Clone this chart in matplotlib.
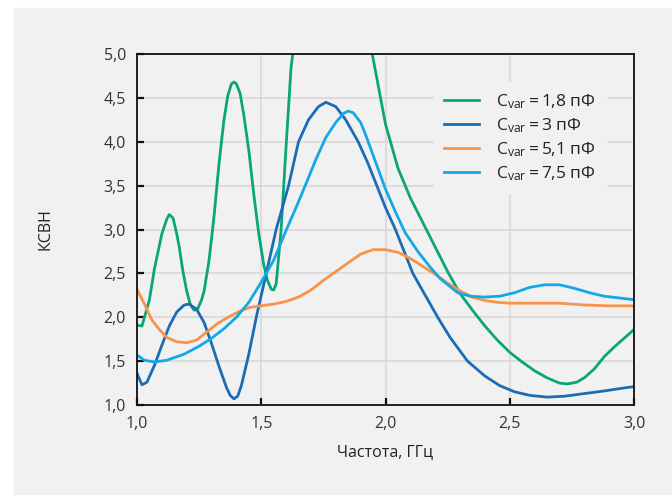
import matplotlib
matplotlib.use('Agg')
import matplotlib.pyplot as plt
from matplotlib.patches import Rectangle
from matplotlib.ticker import FuncFormatter

plt.rcParams['font.family'] = ['Open Sans', 'DejaVu Sans']

# Данные КСВН
f_18 = [1.00, 1.02, 1.05, 1.07, 1.10, 1.12, 1.13, 1.145, 1.16, 1.17, 1.185, 1.20,
        1.215, 1.23, 1.245, 1.26, 1.27, 1.29, 1.31, 1.33, 1.35, 1.365, 1.38, 1.39,
        1.40, 1.415, 1.43, 1.45, 1.47, 1.49, 1.51, 1.525, 1.54, 1.55, 1.56, 1.58,
        1.60, 1.62, 1.65, 1.70, 1.78, 1.86, 1.92, 1.95, 2.00, 2.05, 2.10, 2.15,
        2.20, 2.25, 2.30, 2.35, 2.40, 2.45, 2.50, 2.55, 2.60, 2.65, 2.70, 2.73,
        2.77, 2.80, 2.84, 2.88, 2.92, 2.96, 3.00]
vswr_18 = [1.91, 1.90, 2.20, 2.55, 2.95, 3.12, 3.17, 3.13, 2.95, 2.80, 2.52, 2.30,
           2.14, 2.08, 2.10, 2.20, 2.30, 2.65, 3.15, 3.75, 4.25, 4.52, 4.66, 4.68,
           4.66, 4.55, 4.30, 3.90, 3.40, 2.95, 2.60, 2.42, 2.32, 2.31, 2.38, 3.00,
           3.95, 4.85, 5.50, 6.00, 6.20, 6.00, 5.40, 4.95, 4.20, 3.70, 3.36, 3.08,
           2.80, 2.52, 2.27, 2.08, 1.90, 1.74, 1.60, 1.49, 1.39, 1.31, 1.25, 1.24,
           1.26, 1.31, 1.41, 1.55, 1.66, 1.76, 1.86]

f_3 = [1.00, 1.02, 1.04, 1.07, 1.10, 1.13, 1.16, 1.19, 1.21, 1.24, 1.27, 1.30,
       1.33, 1.36, 1.375, 1.39, 1.405, 1.42, 1.45, 1.48, 1.52, 1.56, 1.61, 1.65,
       1.69, 1.73, 1.76, 1.80, 1.84, 1.89, 1.93, 1.965, 2.00, 2.04, 2.075, 2.11,
       2.16, 2.21, 2.26, 2.33, 2.40, 2.46, 2.52, 2.58, 2.65, 2.72, 2.80, 2.88,
       2.95, 3.00]
vswr_3 = [1.36, 1.23, 1.26, 1.45, 1.68, 1.90, 2.06, 2.14, 2.15, 2.09, 1.94, 1.70,
          1.44, 1.20, 1.11, 1.07, 1.10, 1.22, 1.58, 2.00, 2.50, 3.00, 3.50, 4.00,
          4.25, 4.40, 4.45, 4.40, 4.25, 4.00, 3.75, 3.50, 3.25, 3.00, 2.75, 2.50,
          2.25, 2.00, 1.77, 1.50, 1.33, 1.22, 1.15, 1.11, 1.09, 1.10, 1.13, 1.16,
          1.19, 1.21]

f_51 = [1.00, 1.03, 1.06, 1.09, 1.12, 1.16, 1.20, 1.24, 1.28, 1.32, 1.36, 1.40,
        1.45, 1.50, 1.55, 1.60, 1.65, 1.70, 1.75, 1.80, 1.85, 1.90, 1.95, 2.00,
        2.05, 2.10, 2.15, 2.20, 2.25, 2.30, 2.35, 2.40, 2.45, 2.50, 2.60, 2.70,
        2.80, 2.90, 3.00]
vswr_51 = [2.32, 2.15, 1.97, 1.86, 1.77, 1.72, 1.71, 1.74, 1.83, 1.92, 1.99, 2.05,
           2.11, 2.13, 2.15, 2.18, 2.23, 2.31, 2.42, 2.52, 2.62, 2.72, 2.77, 2.77,
           2.74, 2.67, 2.58, 2.49, 2.39, 2.30, 2.23, 2.19, 2.17, 2.16, 2.16, 2.16,
           2.14, 2.13, 2.13]

f_75 = [1.00, 1.03, 1.07, 1.12, 1.19, 1.25, 1.30, 1.35, 1.40, 1.45, 1.50, 1.55,
        1.60, 1.64, 1.68, 1.72, 1.76, 1.80, 1.83, 1.85, 1.87, 1.90, 1.92, 1.96,
        2.00, 2.04, 2.08, 2.13, 2.18, 2.22, 2.29, 2.34, 2.40, 2.46, 2.52, 2.58,
        2.64, 2.70, 2.76, 2.82, 2.88, 2.94, 3.00]
vswr_75 = [1.57, 1.51, 1.49, 1.51, 1.58, 1.67, 1.76, 1.87, 2.00, 2.17, 2.40, 2.65,
           2.99, 3.25, 3.52, 3.80, 4.05, 4.22, 4.32, 4.35, 4.33, 4.22, 4.08, 3.77,
           3.46, 3.20, 2.96, 2.75, 2.57, 2.44, 2.28, 2.24, 2.23, 2.24, 2.28, 2.34,
           2.37, 2.37, 2.33, 2.28, 2.24, 2.22, 2.20]

labels = ['$\\mathregular{C_{var}}$\u2009=\u20091,8 пФ',
          '$\\mathregular{C_{var}}$\u2009=\u20093 пФ',
          '$\\mathregular{C_{var}}$\u2009=\u20095,1 пФ',
          '$\\mathregular{C_{var}}$\u2009=\u20097,5 пФ']
colors = ['#0aa678', '#1a6db5', '#f7944a', '#12a9e6']

x_ticks = [1.0, 1.5, 2.0, 2.5, 3.0]
y_ticks = [1.0, 1.5, 2.0, 2.5, 3.0, 3.5, 4.0, 4.5, 5.0]

bg = '#f1f1f1'
fig = plt.figure(figsize=(6.72, 4.95), dpi=100)
fig.patches.append(Rectangle((14 / 672, 1 / 495), 1, 486 / 495,
                             transform=fig.transFigure, color=bg, zorder=-10))
ax = fig.add_axes([137 / 672, 90 / 495, 497 / 672, 351 / 495])
ax.set_facecolor(bg)

ax.plot(f_18, vswr_18, color=colors[0], lw=2.0, label=labels[0])
ax.plot(f_3, vswr_3, color=colors[1], lw=2.0, label=labels[1])
ax.plot(f_51, vswr_51, color=colors[2], lw=2.0, label=labels[2])
ax.plot(f_75, vswr_75, color=colors[3], lw=2.0, label=labels[3])

ax.set_xlim(1, 3)
ax.set_ylim(1, 5)
ax.set_xticks(x_ticks)
ax.set_yticks(y_ticks)
fmt = FuncFormatter(lambda v, p: f'{v:.1f}'.replace('.', ','))
ax.xaxis.set_major_formatter(fmt)
ax.yaxis.set_major_formatter(fmt)
ax.grid(True, color='#d6d6d6', lw=1.1)
ax.set_axisbelow(True)
for s in ax.spines.values():
    s.set_color('#111111')
    s.set_linewidth(1.3)
ax.tick_params(direction='in', length=5, width=1.6, colors='#111111',
               labelcolor='#333333', labelsize=11.5, pad=8)

ax.set_xlabel('Частота, ГГц', fontsize=11.5, color='#222222', labelpad=9)
ax.set_ylabel('КСВН', fontsize=11.5, color='#222222', labelpad=36)

leg = ax.legend(loc='upper left', bbox_to_anchor=(0.58, 0.945), fontsize=12.5,
                frameon=True, facecolor=bg, edgecolor=bg, framealpha=1,
                fancybox=False, handlelength=2.0, handletextpad=0.95,
                labelspacing=0.3, borderpad=0.6)
for t in leg.get_texts():
    t.set_color('#222222')

fig.savefig('out.png', dpi=100)
